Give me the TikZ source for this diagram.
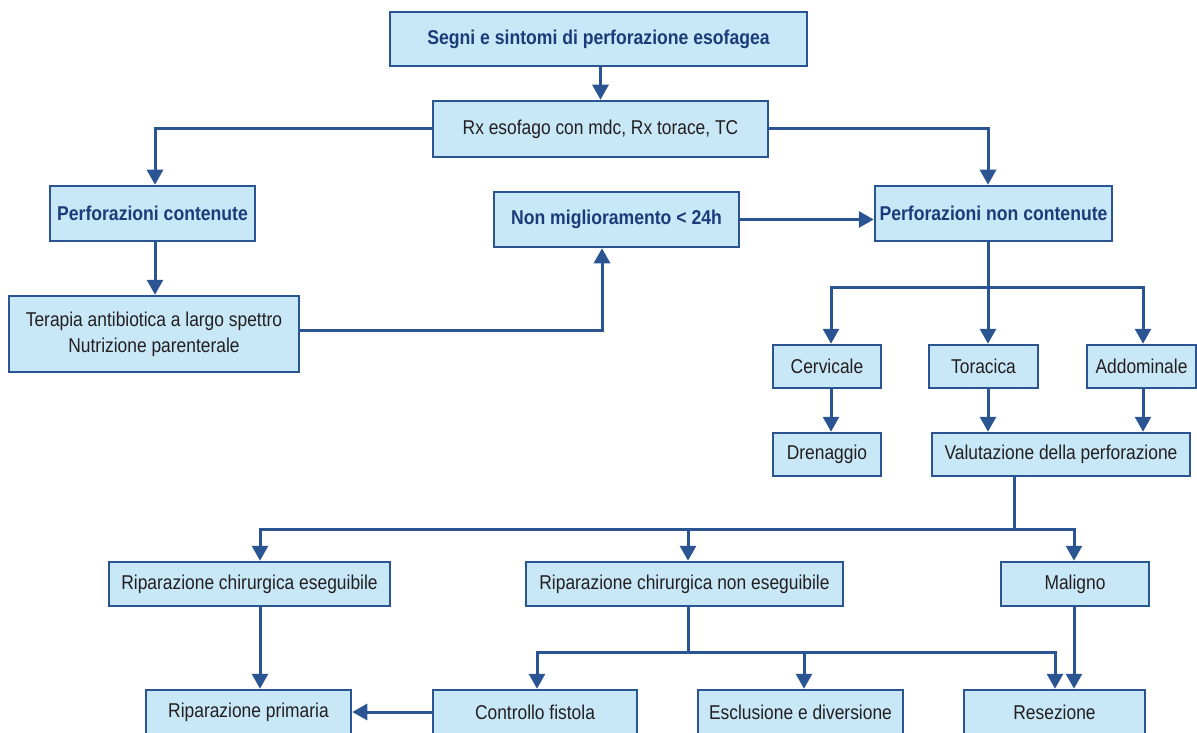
\documentclass[tikz,border=0pt]{standalone}
\usepackage{fontspec}
\setmainfont{Liberation Sans}[FakeStretch=0.87, BoldFeatures={FakeStretch=0.88}]
\usetikzlibrary{arrows.meta}
\definecolor{boxfill}{HTML}{C8E8F8}
\definecolor{boxline}{HTML}{2A5592}
\definecolor{titletext}{HTML}{1B3C78}
\definecolor{bodytext}{HTML}{231F20}
\begin{document}
\begin{tikzpicture}[x=1pt,y=-1pt,
  box/.style={draw=boxline, fill=boxfill, line width=2.5pt, rectangle, inner sep=0pt,
    align=center, text=bodytext, font=\fontsize{20}{26}\selectfont},
  hbox/.style={box, text=titletext, font=\fontsize{20}{26}\selectfont\bfseries},
  conn/.style={draw=boxline, line width=3pt},
  arr/.style={conn, -{Triangle[width=16pt,length=15pt]}}]
\useasboundingbox (0,0) rectangle (1197,733);
% boxes
\node[hbox, minimum width=417pt, minimum height=54pt] (segni) at (598.5,39) {Segni e sintomi di perforazione esofagea};
\node[box, minimum width=335pt, minimum height=56pt] (rx) at (600.5,129) {Rx esofago con mdc, Rx torace, TC};
\node[hbox, minimum width=205pt, minimum height=55pt] (pc) at (152.5,213.5) {Perforazioni contenute};
\node[box, minimum width=290pt, minimum height=76pt] (ter) at (154,334) {Terapia antibiotica a largo spettro\\Nutrizione parenterale};
\node[hbox, minimum width=245pt, minimum height=55pt] (nm) at (616.5,219.5) {Non miglioramento < 24h};
\node[hbox, minimum width=237pt, minimum height=55pt] (pnc) at (993.5,213.5) {Perforazioni non contenute};
\node[box, minimum width=108pt, minimum height=43pt] (cerv) at (827,366.5) {Cervicale};
\node[box, minimum width=109pt, minimum height=43pt] (tor) at (983.5,366.5) {Toracica};
\node[box, minimum width=109pt, minimum height=43pt] (add) at (1141.5,366.5) {Addominale};
\node[box, minimum width=108pt, minimum height=43pt] (dren) at (827,454.5) {Drenaggio};
\node[box, minimum width=258pt, minimum height=43pt] (val) at (1061,454.5) {Valutazione della perforazione};
\node[box, minimum width=281pt, minimum height=44pt] (rce) at (249.5,584) {Riparazione chirurgica eseguibile};
\node[box, minimum width=317pt, minimum height=44pt] (rne) at (684.5,584) {Riparazione chirurgica non eseguibile};
\node[box, minimum width=148pt, minimum height=44pt] (mal) at (1075,584) {Maligno};
\node[box, minimum width=205pt, minimum height=44pt] (rp) at (248.5,712) {Riparazione primaria};
\node[box, minimum width=204pt, minimum height=44pt] (cf) at (535,712) {Controllo fistola};
\node[box, minimum width=205pt, minimum height=44pt] (esc) at (800.5,712) {Esclusione e diversione};
\node[box, minimum width=181pt, minimum height=44pt] (res) at (1054.5,712) {Resezione};
% junction points
\coordinate (b1) at (988,287);
\coordinate (b2) at (1014,529);
\coordinate (b3) at (688,652);
% connectors
\draw[arr] (rx.north |- segni.south) -- (rx.north);
\draw[arr] (rx.west) -| ([xshift=2.5pt]pc.north);
\draw[arr] (rx.east) -| ([xshift=-5.5pt]pnc.north);
\draw[arr] ([xshift=2.5pt]pc.south) -- ([xshift=2.5pt]pc.south |- ter.north);
\draw[arr] ([yshift=4pt]ter.east) -| ([xshift=-14.5pt]nm.south);
\draw[arr] (nm.east) -- (nm.east -| pnc.west);
\draw[conn] (pnc.south -| b1) -- (b1);
\draw[arr] (b1) -- (b1 |- tor.north);
\draw[arr] (b1) -| ([xshift=4pt]cerv.north);
\draw[arr] (b1) -| ([xshift=1.5pt]add.north);
\draw[arr] ([xshift=4pt]cerv.south) -- ([xshift=4pt]dren.north);
\draw[arr] (b1 |- tor.south) -- (b1 |- val.north);
\draw[arr] ([xshift=1.5pt]add.south) -- ([xshift=1.5pt]add.south |- val.north);
\draw[conn] (val.south -| b2) -- (b2);
\draw[arr] (b2) -| ([xshift=10.5pt]rce.north);
\draw[arr] (b2) -| ([xshift=3.5pt]rne.north);
\draw[arr] (b2) -| ([xshift=-1pt]mal.north);
\draw[arr] ([xshift=10.5pt]rce.south) -- ([xshift=10.5pt]rce.south |- rp.north);
\draw[conn] (rne.south -| b3) -- (b3);
\draw[arr] (b3) -| ([xshift=2pt]cf.north);
\draw[arr] (b3) -| ([xshift=3.5pt]esc.north);
\draw[arr] (b3) -| ([xshift=0.5pt]res.north);
\draw[arr] ([xshift=-1pt]mal.south) -- ([xshift=-1pt]mal.south |- res.north);
\draw[arr] (cf.west) -- (rp.east);
\end{tikzpicture}
\end{document}
